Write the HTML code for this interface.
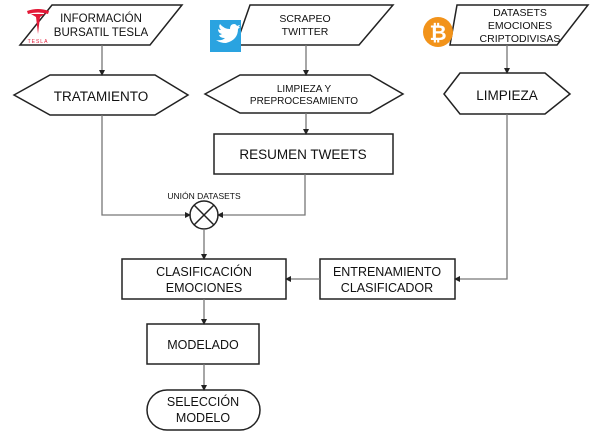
<!DOCTYPE html>
<html><head><meta charset="utf-8"><style>
body{margin:0;background:#fff;width:594px;height:435px;overflow:hidden}
svg{display:block}
text{font-family:"Liberation Sans",Arial,sans-serif;fill:#111}
</style></head><body>
<svg width="594" height="435" viewBox="0 0 594 435" xmlns="http://www.w3.org/2000/svg">
<defs><marker id="a" markerWidth="6" markerHeight="6" refX="5" refY="3" orient="auto" markerUnits="userSpaceOnUse"><path d="M0,0 L6,3 L0,6z" fill="#222"/></marker></defs>
<g fill="#fff" stroke="#222" stroke-width="1.5">
<polygon points="52,5 182,5 150,45 20,45"/>
<polygon points="250,5 393,5 359,45 236,45"/>
<polygon points="457,5 588,5 557,45 450,45"/>
<polygon points="14,95 50,75 155,75 188,95 155,115 50,115"/>
<polygon points="205,94 240,75 370,75 403,94 370,113 240,113"/>
<polygon points="444,94 460,73 545,73 570,94 545,114 460,114"/>
<rect x="214" y="134" width="179" height="40"/>
<rect x="122" y="259" width="164" height="40"/>
<rect x="320" y="259" width="135" height="40"/>
<rect x="147" y="324" width="112" height="40"/>
<rect x="147" y="390" width="113" height="40" rx="20"/>
<circle cx="204" cy="215" r="14"/>
<path d="M194,205 L214,225 M214,205 L194,225" fill="none"/>
</g>
<g fill="none" stroke="#777" stroke-width="1.3" marker-end="url(#a)">
<path d="M102,45 V75"/>
<path d="M306,45 V75"/>
<path d="M306,113 V134"/>
<path d="M507,45 V73"/>
<path d="M102,115 V215 H190"/>
<path d="M305,174 V215 H218"/>
<path d="M204,229 V259"/>
<path d="M507,114 V279 H455"/>
<path d="M320,279 H286"/>
<path d="M204,299 V324"/>
<path d="M204,364 V390"/>
</g>
<g>
<path d="M27,11 Q38,7 49,11 L48,14 Q38,11 28,14z" fill="#e31937"/>
<path d="M31,14 L45,14 L40,17 L38,34 L36,17z" fill="#e31937"/>
<text x="38" y="43" font-size="5" text-anchor="middle" style="fill:#e31937" letter-spacing="1">TESLA</text>
<rect x="210" y="20" width="31" height="32" fill="#2aa3e0"/>
<path d="M216,40 Q222,41 225,38 Q220,38 219,35 Q221,35 222,34 Q218,33 218,29 Q219,30 221,30 Q218,27 220,24 Q224,29 230,29 Q230,24 234,24 Q236,24 237,26 Q239,25 240,25 Q239,27 238,27 Q239,27 240,27 Q239,28 238,29 Q238,40 226,43 Q220,43 216,40z" fill="#fff"/>
<circle cx="438" cy="32" r="15" fill="#f2931a"/>
<text x="438" y="40" font-size="21" font-weight="bold" text-anchor="middle" style="fill:#fff">₿</text>
</g>
<g font-size="12" text-anchor="middle">
<text x="101" y="22" font-size="11.5">INFORMACIÓN</text><text x="101" y="36" font-size="11.5">BURSATIL TESLA</text>
<text x="305" y="22" font-size="10.5">SCRAPEO</text><text x="305" y="35" font-size="10.5">TWITTER</text>
<text x="520" y="16" font-size="10.5">DATASETS</text><text x="520" y="29" font-size="10.5">EMOCIONES</text><text x="520" y="42" font-size="10.5">CRIPTODIVISAS</text>
<text x="101" y="101" font-size="13.5">TRATAMIENTO</text>
<text x="304" y="92" font-size="10">LIMPIEZA Y</text><text x="304" y="104" font-size="10">PREPROCESAMIENTO</text>
<text x="507" y="100" font-size="13.5">LIMPIEZA</text>
<text x="303" y="159" font-size="13.5">RESUMEN TWEETS</text>
<text x="204" y="199" font-size="8.5">UNIÓN DATASETS</text>
<text x="204" y="276" font-size="12.5">CLASIFICACIÓN</text><text x="204" y="292" font-size="12.5">EMOCIONES</text>
<text x="387" y="276" font-size="12.5">ENTRENAMIENTO</text><text x="387" y="292" font-size="12.5">CLASIFICADOR</text>
<text x="203" y="349" font-size="12.5">MODELADO</text>
<text x="203" y="406" font-size="12.5">SELECCIÓN</text><text x="203" y="422" font-size="12.5">MODELO</text>
</g>
</svg>
</body></html>
